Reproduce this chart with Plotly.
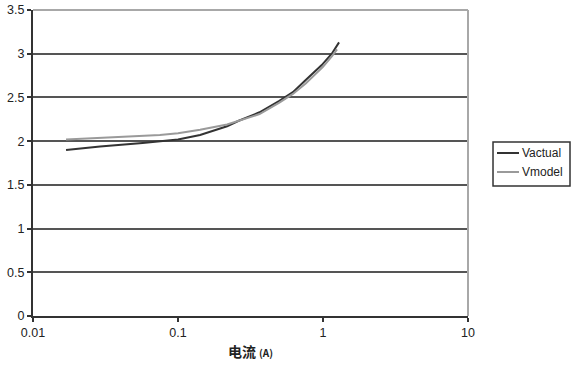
import plotly.graph_objects as go

current_a = [0.0169, 0.029, 0.057, 0.075, 0.1, 0.142, 0.218, 0.26, 0.365, 0.5, 0.62, 0.76, 0.85, 0.98, 1.15, 1.29]
v_actual = [1.90, 1.94, 1.98, 2.00, 2.02, 2.07, 2.17, 2.23, 2.33, 2.46, 2.56, 2.70, 2.78, 2.87, 3.00, 3.13]

model_a = [0.0169, 0.029, 0.057, 0.075, 0.1, 0.142, 0.218, 0.26, 0.365, 0.5, 0.62, 0.76, 0.85, 1.0, 1.15, 1.25]
v_model = [2.02, 2.04, 2.06, 2.07, 2.09, 2.13, 2.19, 2.23, 2.31, 2.44, 2.54, 2.66, 2.74, 2.85, 2.97, 3.05]

series_names = ["Vactual", "Vmodel"]
series_colors = ["#333333", "#9a9a9a"]

y_ticks = [0, 0.5, 1, 1.5, 2, 2.5, 3, 3.5]
y_labels = ["0", "0.5", "1", "1.5", "2", "2.5", "3", "3.5"]
x_ticks = [0.01, 0.1, 1, 10]
x_labels = ["0.01", "0.1", "1", "10"]

fig = go.Figure()
fig.add_trace(go.Scatter(x=current_a, y=v_actual, mode="lines", name=series_names[0],
                         line=dict(color=series_colors[0], width=2), showlegend=False))
fig.add_trace(go.Scatter(x=model_a, y=v_model, mode="lines", name=series_names[1],
                         line=dict(color=series_colors[1], width=2), showlegend=False))

fig.update_layout(
    width=575, height=366,
    margin=dict(l=33, r=107, t=10, b=50, autoexpand=False),
    paper_bgcolor="white", plot_bgcolor="white",
    font=dict(family="Liberation Sans, Arial, sans-serif", size=12.5, color="#222222"),
    showlegend=False,
)
fig.update_xaxes(type="log", range=[-2, 1], tickvals=x_ticks, ticktext=x_labels,
                 showgrid=False, showline=True, linecolor="#333333", linewidth=2,
                 ticks="outside", ticklen=4, tickcolor="#333333", tickwidth=2,
                 zeroline=False, automargin=False,
                 title=dict(text="<b>电流 <span style='font-size:10px'>(A)</span></b>",
                            font=dict(family="Noto Sans CJK SC", size=14, color="#222222"),
                            standoff=8))
fig.update_yaxes(range=[0, 3.5], tickvals=y_ticks, ticktext=y_labels,
                 showgrid=True, gridcolor="#555555", gridwidth=1.5,
                 showline=True, linecolor="#333333", linewidth=2,
                 ticks="outside", ticklen=4, tickcolor="#333333", tickwidth=2,
                 zeroline=False, automargin=False)

# light-gray plot border on top and right
fig.add_shape(type="line", xref="paper", yref="paper", x0=0, x1=1, y0=1, y1=1,
              line=dict(color="#a8a8a8", width=2), layer="above")
fig.add_shape(type="line", xref="paper", yref="paper", x0=1, x1=1, y0=0, y1=1,
              line=dict(color="#a8a8a8", width=2), layer="above")

# compact legend box
fig.add_shape(type="rect", xref="paper", yref="paper", x0=1.0575, x1=1.2345, y0=0.4248, y1=0.5686,
              line=dict(color="#333333", width=1.5), fillcolor="white")
legend_rows = [0.5327, 0.4706]
for name, color, yy in zip(series_names, series_colors, legend_rows):
    fig.add_shape(type="line", xref="paper", yref="paper", x0=1.0667, x1=1.1172, y0=yy, y1=yy,
                  line=dict(color=color, width=2))
    fig.add_annotation(xref="paper", yref="paper", x=1.119, y=yy, text=name, showarrow=False,
                       xanchor="left", yanchor="middle",
                       font=dict(size=12, color="#222222"))

fig.write_html("out.html")
